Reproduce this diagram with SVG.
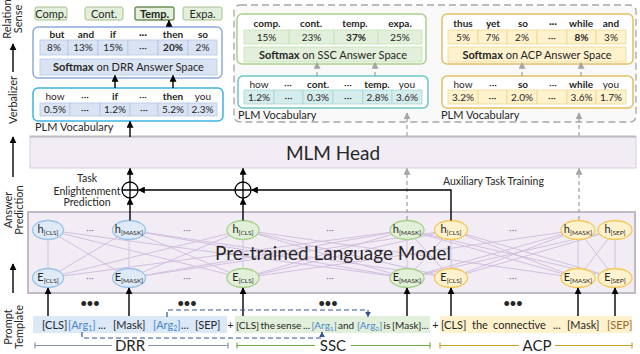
<svg xmlns="http://www.w3.org/2000/svg" width="640" height="354" viewBox="0 0 640 354">
<style>
text{font-family:Lato,"Liberation Sans",sans-serif;fill:#262626}
.b{font-weight:bold}
.m{text-anchor:middle}
.f10{font-size:10px}
.f11{font-size:11px}
.sub{font-size:6.5px}
.ax{font-size:11px;text-anchor:middle}
.arr{stroke:#000;stroke-width:1.4;fill:none}
.garr{stroke:#a6a6a6;stroke-width:1.3;fill:none;stroke-dasharray:4 3}
.barr{stroke:#2f5597;stroke-width:1.2;fill:none;stroke-dasharray:5 3}
.rel{fill:#e2efda;stroke:#a9c08f;stroke-width:1}
.cb{fill:#dae3f3;stroke:#b4c7e7;stroke-width:0.8}
.cg{fill:#e2efda;stroke:#c5e0b4;stroke-width:0.8}
.ct{fill:#d5ecec;stroke:#a8d8d8;stroke-width:0.8}
.cy{fill:#fff2cc;stroke:#f0d890;stroke-width:0.8}
.nb{fill:#deebf7;stroke:#9dc3e6;stroke-width:1.3}
.ng{fill:#e2f0d9;stroke:#a9d18e;stroke-width:1.3}
.ny{fill:#fff2cc;stroke:#f4c95c;stroke-width:1.3}
.dots{fill:#8c86a8;font-size:10px;text-anchor:middle}
.arg{fill:#4a86c8}
.t{font-size:10px}
.brl{font-size:15px;text-anchor:middle}
</style>
<defs>
<marker id="ah" viewBox="0 0 10 10" refX="9" refY="5" markerUnits="userSpaceOnUse" markerWidth="7" markerHeight="7" orient="auto"><path d="M0,0 L10,5 L0,10 z" fill="#000"/></marker>
<marker id="gh" viewBox="0 0 10 10" refX="9" refY="5" markerUnits="userSpaceOnUse" markerWidth="7" markerHeight="7" orient="auto"><path d="M0,0 L10,5 L0,10 z" fill="#a6a6a6"/></marker>
<marker id="bh" viewBox="0 0 10 10" refX="9" refY="5" markerUnits="userSpaceOnUse" markerWidth="6" markerHeight="6" orient="auto"><path d="M0,0 L10,5 L0,10 z" fill="#2f5597"/></marker>
</defs>

<!-- left axis -->
<g id="axis">
<text class="ax" transform="translate(11,19) rotate(-90)">Relation</text>
<text class="ax" transform="translate(22,19) rotate(-90)">Sense</text>
<text class="ax" transform="translate(17,100) rotate(-90)">Verbalizer</text>
<text class="ax" transform="translate(12,210) rotate(-90)">Answer</text>
<text class="ax" transform="translate(23,210) rotate(-90)">Prediction</text>
<text class="ax" transform="translate(12,327) rotate(-90)">Prompt</text>
<text class="ax" transform="translate(23,327) rotate(-90)">Template</text>
<path class="arr" d="M13,72 V44" marker-end="url(#ah)"/>
<path class="arr" d="M13,177 V137" marker-end="url(#ah)"/>
<path class="arr" d="M13,293 V264" marker-end="url(#ah)"/>
</g>

<!-- relation senses -->
<g id="rel-comp"><rect class="rel" x="35" y="7" width="32" height="13" rx="2"/><text class="f11 m" x="51" y="17.5">Comp.</text></g>
<g id="rel-cont"><rect class="rel" x="85" y="7" width="38" height="13" rx="2"/><text class="f11 m" x="104" y="17.5">Cont.</text></g>
<g id="rel-temp"><rect class="rel" x="135" y="7" width="39" height="13" rx="2" style="stroke:#6f8f5a;stroke-width:1.4"/><text class="f11 m b" x="154.5" y="17.5">Temp.</text></g>
<g id="rel-expa"><rect class="rel" x="183" y="7" width="39" height="13" rx="2"/><text class="f11 m" x="202.5" y="17.5">Expa.</text></g>

<!-- DRR verbalizer -->
<g id="drr-answer">
<rect x="33" y="27" width="189" height="51" rx="5" fill="#fff" stroke="#8eaadb" stroke-width="1.5"/>
<g class="f10 m b">
<text x="57" y="37.5">but</text><text x="86" y="37.5">and</text><text x="113" y="37.5">if</text><text x="143" y="37.5">···</text><text x="173" y="37.5">then</text><text x="203" y="37.5">so</text>
</g>
<rect class="cb" x="40" y="40" width="28" height="15"/><rect class="cb" x="68" y="40" width="30" height="15"/><rect class="cb" x="98" y="40" width="30" height="15"/><rect class="cb" x="128" y="40" width="30" height="15"/><rect class="cb" x="158" y="40" width="30" height="15"/><rect class="cb" x="188" y="40" width="29" height="15"/>
<g class="f10 m">
<text x="54" y="51">8%</text><text x="83" y="51">13%</text><text x="113" y="51">15%</text><text x="143" y="51">···</text><text class="b" x="173" y="51">20%</text><text x="202.5" y="51">2%</text>
</g>
<rect class="cb" x="40" y="59" width="177" height="16"/>
<text class="f11 m" x="128.5" y="71"><tspan class="b">Softmax</tspan> on DRR Answer Space</text>
</g>

<g id="drr-vocab">
<rect x="33" y="88" width="190" height="33" rx="5" fill="#fff" stroke="#3cb4e6" stroke-width="1.5"/>
<g class="f10 m">
<text x="55" y="100">how</text><text x="85" y="100">···</text><text class="b" x="115" y="100">if</text><text x="143" y="100">···</text><text class="b" x="173" y="100">then</text><text x="203" y="100">you</text>
</g>
<rect class="cb" x="40" y="103" width="30" height="13"/><rect class="cb" x="70" y="103" width="30" height="13"/><rect class="cb" x="100" y="103" width="30" height="13"/><rect class="cb" x="130" y="103" width="28" height="13"/><rect class="cb" x="158" y="103" width="30" height="13"/><rect class="cb" x="188" y="103" width="29" height="13"/>
<g class="f10 m">
<text x="55" y="113">0.5%</text><text x="85" y="113">···</text><text x="115" y="113">1.2%</text><text x="144" y="113">···</text><text x="173" y="113">5.2%</text><text x="202.5" y="113">2.3%</text>
</g>
<text class="f11" x="35" y="131">PLM Vocabulary</text>
</g>

<!-- auxiliary verbalizers -->
<g id="aux-frame"><rect x="234" y="5" width="402" height="117" rx="6" fill="#f9f9f9" stroke="#a6a6a6" stroke-width="1.3" stroke-dasharray="7 4"/></g>

<g id="ssc-answer">
<rect x="237" y="14" width="189" height="50" rx="5" fill="#fff" stroke="#a9d18e" stroke-width="1.5"/>
<g class="f10 m b">
<text x="267" y="26.5">comp.</text><text x="311" y="26.5">cont.</text><text x="355" y="26.5">temp.</text><text x="400" y="26.5">expa.</text>
</g>
<rect class="cg" x="244" y="30" width="45" height="14"/><rect class="cg" x="289" y="30" width="45" height="14"/><rect class="cg" x="334" y="30" width="44" height="14"/><rect class="cg" x="378" y="30" width="44" height="14"/>
<g class="f10 m">
<text x="266.5" y="40.5">15%</text><text x="311.5" y="40.5">23%</text><text class="b" x="356" y="40.5">37%</text><text x="400" y="40.5">25%</text>
</g>
<rect class="cg" x="244" y="47" width="178" height="15"/>
<text class="f11 m" x="333" y="58.5"><tspan class="b">Softmax</tspan> on SSC Answer Space</text>
</g>

<g id="ssc-vocab">
<rect x="238" y="76" width="190" height="32" rx="5" fill="#fff" stroke="#6cc5c5" stroke-width="1.5"/>
<g class="f10 m">
<text x="259" y="87.5">how</text><text x="288" y="87.5">···</text><text class="b" x="318" y="87.5">cont.</text><text x="348" y="87.5">···</text><text class="b" x="377" y="87.5">temp.</text><text x="407" y="87.5">you</text>
</g>
<rect class="ct" x="244" y="90" width="30" height="14"/><rect class="ct" x="274" y="90" width="29" height="14"/><rect class="ct" x="303" y="90" width="30" height="14"/><rect class="ct" x="333" y="90" width="30" height="14"/><rect class="ct" x="363" y="90" width="29" height="14"/><rect class="ct" x="392" y="90" width="30" height="14"/>
<g class="f10 m">
<text x="259" y="100.5">1.2%</text><text x="288.5" y="100.5">···</text><text x="318" y="100.5">0.3%</text><text x="348" y="100.5">···</text><text x="377.5" y="100.5">2.8%</text><text x="407" y="100.5">3.6%</text>
</g>
<text class="f11" x="238" y="119">PLM Vocabulary</text>
</g>

<g id="acp-answer">
<rect x="442" y="14" width="191" height="50" rx="5" fill="#fff" stroke="#e2c062" stroke-width="1.5"/>
<g class="f10 m b">
<text x="463" y="26.5">thus</text><text x="493" y="26.5">yet</text><text x="523" y="26.5">so</text><text x="553" y="26.5">···</text><text x="581" y="26.5">while</text><text x="611" y="26.5">and</text>
</g>
<rect class="cy" x="448" y="30" width="30" height="14"/><rect class="cy" x="478" y="30" width="29" height="14"/><rect class="cy" x="507" y="30" width="30" height="14"/><rect class="cy" x="537" y="30" width="30" height="14"/><rect class="cy" x="567" y="30" width="29" height="14"/><rect class="cy" x="596" y="30" width="30" height="14"/>
<g class="f10 m">
<text x="463" y="40.5">5%</text><text x="492.5" y="40.5">7%</text><text x="522" y="40.5">2%</text><text x="552" y="40.5">···</text><text class="b" x="581.5" y="40.5">8%</text><text x="611" y="40.5">3%</text>
</g>
<rect class="cy" x="448" y="47" width="178" height="15"/>
<text class="f11 m" x="537" y="58.5"><tspan class="b">Softmax</tspan> on ACP Answer Space</text>
</g>

<g id="acp-vocab">
<rect x="442" y="76" width="191" height="32" rx="5" fill="#fff" stroke="#e2c062" stroke-width="1.5"/>
<g class="f10 m">
<text x="463" y="87.5">how</text><text x="493" y="87.5">···</text><text class="b" x="523" y="87.5">so</text><text x="553" y="87.5">···</text><text class="b" x="581" y="87.5">while</text><text x="611" y="87.5">you</text>
</g>
<rect class="cy" x="448" y="90" width="30" height="14"/><rect class="cy" x="478" y="90" width="29" height="14"/><rect class="cy" x="507" y="90" width="30" height="14"/><rect class="cy" x="537" y="90" width="30" height="14"/><rect class="cy" x="567" y="90" width="29" height="14"/><rect class="cy" x="596" y="90" width="30" height="14"/>
<g class="f10 m">
<text x="463" y="100.5">3.2%</text><text x="492.5" y="100.5">···</text><text x="522" y="100.5">2.0%</text><text x="552" y="100.5">···</text><text x="581.5" y="100.5">3.6%</text><text x="611" y="100.5">1.7%</text>
</g>
<text class="f11" x="441" y="119">PLM Vocabulary</text>
</g>

<!-- MLM head -->
<g id="mlm-head">
<rect x="30" y="137" width="606" height="31" fill="#f2ecf5" stroke="#d8cbe0" stroke-width="1"/>
<line x1="30" y1="136.5" x2="636" y2="136.5" stroke="#bdbdbd" stroke-width="2"/>
<text class="m" x="333" y="160" style="font-size:19px">MLM Head</text>
</g>

<!-- PLM -->
<g id="plm">
<rect x="28" y="212" width="607" height="81" fill="#f2ecf5" stroke="#c2bac7" stroke-width="2"/>
<path d="M48,278L48,230M129,278L129,230M243,278L243,230M407,278L407,230M451,278L451,230M578,278L578,230M615,278L615,230
M48,278L129,230M129,278L48,230M48,278L243,230M243,278L48,230M48,278L407,230M407,278L48,230
M129,278L243,230M243,278L129,230M129,278L407,230M407,278L129,230M129,278L451,230M451,278L129,230
M243,278L407,230M407,278L243,230M243,278L451,230M451,278L243,230M243,278L578,230M578,278L243,230
M407,278L451,230M451,278L407,230M407,278L578,230M578,278L407,230M407,278L615,230M615,278L407,230
M451,278L578,230M578,278L451,230M451,278L615,230M615,278L451,230M578,278L615,230M615,278L578,230" stroke="#d2c0df" stroke-width="1" fill="none"/>
<text class="m" x="333" y="260" style="font-size:19px">Pre-trained Language Model</text>
<text class="dots" x="90" y="233">···</text><text class="dots" x="187" y="233">···</text><text class="dots" x="330" y="233">···</text><text class="dots" x="513" y="233">···</text>
<text class="dots" x="90" y="281">···</text><text class="dots" x="187" y="281">···</text><text class="dots" x="330" y="281">···</text><text class="dots" x="513" y="281">···</text>
</g>

<g id="h-cls-drr"><ellipse class="nb" cx="48" cy="230" rx="15.5" ry="9.5"/><text class="f11 m" x="48" y="233">h<tspan class="sub" dy="2">[CLS]</tspan></text></g>
<g id="h-mask-drr"><ellipse class="nb" cx="129" cy="230" rx="16.5" ry="9.5"/><text class="f11 m" x="129" y="233">h<tspan class="sub" dy="2">[MASK]</tspan></text></g>
<g id="h-cls-ssc"><ellipse class="ng" cx="243" cy="230" rx="16" ry="9.5"/><text class="f11 m" x="243" y="233">h<tspan class="sub" dy="2">[CLS]</tspan></text></g>
<g id="h-mask-ssc"><ellipse class="ng" cx="407" cy="230" rx="17" ry="9.5"/><text class="f11 m" x="407" y="233">h<tspan class="sub" dy="2">[MASK]</tspan></text></g>
<g id="h-cls-acp"><ellipse class="ny" cx="451" cy="230" rx="16.5" ry="9.5"/><text class="f11 m" x="451" y="233">h<tspan class="sub" dy="2">[CLS]</tspan></text></g>
<g id="h-mask-acp"><ellipse class="ny" cx="578" cy="230" rx="17" ry="9.5"/><text class="f11 m" x="578" y="233">h<tspan class="sub" dy="2">[MASK]</tspan></text></g>
<g id="h-sep-acp"><ellipse class="ny" cx="615" cy="230" rx="17" ry="9.5"/><text class="f11 m" x="615" y="233">h<tspan class="sub" dy="2">[SEP]</tspan></text></g>

<g id="e-cls-drr"><ellipse class="nb" cx="48" cy="278" rx="15.5" ry="9.5"/><text class="f11 m" x="48" y="281">E<tspan class="sub" dy="2">[CLS]</tspan></text></g>
<g id="e-mask-drr"><ellipse class="nb" cx="129" cy="278" rx="16.5" ry="9.5"/><text class="f11 m" x="129" y="281">E<tspan class="sub" dy="2">[MASK]</tspan></text></g>
<g id="e-cls-ssc"><ellipse class="ng" cx="243" cy="278" rx="16" ry="9.5"/><text class="f11 m" x="243" y="281">E<tspan class="sub" dy="2">[CLS]</tspan></text></g>
<g id="e-mask-ssc"><ellipse class="ng" cx="407" cy="278" rx="17" ry="9.5"/><text class="f11 m" x="407" y="281">E<tspan class="sub" dy="2">[MASK]</tspan></text></g>
<g id="e-cls-acp"><ellipse class="ny" cx="451" cy="278" rx="16.5" ry="9.5"/><text class="f11 m" x="451" y="281">E<tspan class="sub" dy="2">[CLS]</tspan></text></g>
<g id="e-mask-acp"><ellipse class="ny" cx="578" cy="278" rx="17" ry="9.5"/><text class="f11 m" x="578" y="281">E<tspan class="sub" dy="2">[MASK]</tspan></text></g>
<g id="e-sep-acp"><ellipse class="ny" cx="615" cy="278" rx="17" ry="9.5"/><text class="f11 m" x="615" y="281">E<tspan class="sub" dy="2">[SEP]</tspan></text></g>

<!-- fusion -->
<g id="oplus-1"><circle cx="130" cy="190" r="8" fill="none" stroke="#000" stroke-width="1.3"/><path d="M122,190H138M130,182V198" stroke="#000" stroke-width="1.3"/></g>
<g id="oplus-2"><circle cx="243" cy="190" r="8" fill="none" stroke="#000" stroke-width="1.3"/><path d="M235,190H251M243,182V198" stroke="#000" stroke-width="1.3"/></g>
<text class="m" x="87" y="182" style="font-size:10.5px">Task</text>
<text class="m" x="87" y="194.5" style="font-size:10.5px">Enlightenment</text>
<text class="m" x="87" y="206" style="font-size:10.5px">Prediction</text>
<text x="443" y="185" style="font-size:10.5px">Auxiliary Task Training</text>

<!-- template -->
<g id="template-drr">
<rect x="33" y="316" width="194" height="17" fill="#dae8f8"/>
<g class="f11">
<text x="42" y="328.5">[CLS]</text>
<text class="arg" x="68" y="328.5">[Arg<tspan font-size="7" dy="2">1</tspan><tspan dy="-2">]</tspan></text>
<text x="98" y="328.5">...</text>
<text x="113" y="328.5">[Mask]</text>
<text class="arg" x="153" y="328.5">[Arg<tspan font-size="7" dy="2">2</tspan><tspan dy="-2">]</tspan></text>
<text x="181" y="328.5">...</text>
<text x="195" y="328.5">[SEP]</text>
</g>
</g>
<text class="f11 m" x="230.5" y="328.5">+</text>
<g id="template-ssc">
<rect x="235" y="316" width="195" height="17" fill="#e2efda"/>
<g class="t">
<text x="236" y="328.5">[CLS]</text>
<text x="260.5" y="328.5">the</text>
<text x="276.5" y="328.5">sense</text>
<text x="303" y="328.5">...</text>
<text class="arg" x="311.5" y="328.5">[Arg<tspan font-size="6.5" dy="2">1</tspan><tspan dy="-2">]</tspan></text>
<text x="338" y="328.5">and</text>
<text class="arg" x="357" y="328.5">[Arg<tspan font-size="6.5" dy="2">2</tspan><tspan dy="-2">]</tspan></text>
<text x="383.5" y="328.5">is</text>
<text x="392" y="328.5">[Mask]...</text>
</g>
</g>
<text class="f11 m" x="435.5" y="328.5">+</text>
<g id="template-acp">
<rect x="440" y="316" width="192" height="17" fill="#fff2cc"/>
<g class="f11">
<text x="441" y="328.5">[CLS]</text>
<text x="472" y="328.5">the</text>
<text x="493" y="328.5">connective</text>
<text x="553" y="328.5">...</text>
<text x="567" y="328.5">[Mask]</text>
<text x="607" y="328.5" style="fill:#a0652a">[SEP]</text>
</g>
</g>

<g id="braces">
<path d="M35,345.5H112M148,345.5H228M35,342.5V348.5M228,342.5V348.5" stroke="#8497b0" stroke-width="1.2" fill="none"/>
<text class="brl" x="130" y="350.5">DRR</text>
<path d="M237,345.5H315M351,345.5H430M237,342.5V348.5M430,342.5V348.5" stroke="#70ad47" stroke-width="1.2" fill="none"/>
<text class="brl" x="333" y="350.5">SSC</text>
<path d="M440,345.5H519M555,345.5H632M440,342.5V348.5M632,342.5V348.5" stroke="#c9a227" stroke-width="1.2" fill="none"/>
<text class="brl" x="537" y="350.5">ACP</text>
</g>

<g id="bigdots" class="b" style="font-size:11px">
<text class="m" x="90" y="307">•••</text><text class="m" x="187" y="307">•••</text><text class="m" x="328" y="307">•••</text><text class="m" x="513" y="307">•••</text>
</g>

<!-- connectors -->
<g id="connectors">
<path class="arr" d="M169,27V20.5" marker-end="url(#ah)"/>
<path class="arr" d="M115,88V75.5" marker-end="url(#ah)"/>
<path class="arr" d="M173,88V75.5" marker-end="url(#ah)"/>
<path class="arr" d="M130,137V121.5" marker-end="url(#ah)"/>
<path class="garr" d="M317,76V62.5" marker-end="url(#gh)"/>
<path class="garr" d="M375,76V62.5" marker-end="url(#gh)"/>
<path class="garr" d="M522,76V62.5" marker-end="url(#gh)"/>
<path class="garr" d="M581,76V62.5" marker-end="url(#gh)"/>
<path class="garr" d="M407,136V113" marker-end="url(#gh)"/>
<path class="garr" d="M579,136V113" marker-end="url(#gh)"/>
<path class="garr" d="M407,220V168.5" marker-end="url(#gh)"/>
<path class="garr" d="M579,220V168.5" marker-end="url(#gh)"/>
<path class="arr" d="M130,182V168.5" marker-end="url(#ah)"/>
<path class="arr" d="M243,182V168.5" marker-end="url(#ah)"/>
<path class="arr" d="M130,220.5V198.5" marker-end="url(#ah)"/>
<path class="arr" d="M243,220.5V198.5" marker-end="url(#ah)"/>
<path class="arr" d="M451,220.5V190H251.5" marker-end="url(#ah)"/>
<path class="arr" d="M235,190H138.5" marker-end="url(#ah)"/>
<path class="arr" d="M48,316V288" marker-end="url(#ah)"/>
<path class="arr" d="M129,316V288" marker-end="url(#ah)"/>
<path class="arr" d="M243,316V288" marker-end="url(#ah)"/>
<path class="arr" d="M407,316V288" marker-end="url(#ah)"/>
<path class="arr" d="M451,316V288" marker-end="url(#ah)"/>
<path class="arr" d="M578,316V288" marker-end="url(#ah)"/>
<path class="arr" d="M615,316V288" marker-end="url(#ah)"/>
<path class="barr" d="M167,317V310H368V317" marker-end="url(#bh)"/>
<path class="barr" d="M82,332V338H322V332" marker-end="url(#bh)"/>
</g>
</svg>
